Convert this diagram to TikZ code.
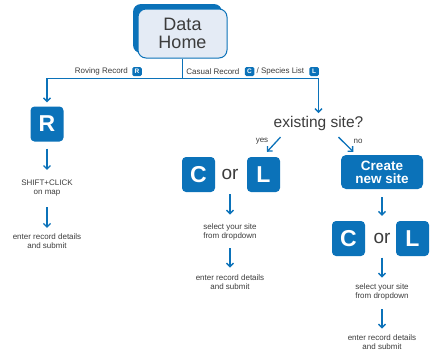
\documentclass[tikz,border=0pt]{standalone}
\usepackage{fontspec}
\setmainfont{Liberation Sans}
\usetikzlibrary{arrows.meta,positioning,shadows}
\definecolor{siteblue}{HTML}{0B72B9}
\definecolor{homefill}{HTML}{E4EBF5}
\definecolor{inkgray}{HTML}{3C3C3C}
\def\drawflow{\draw[color=siteblue, line width=1.3pt, -{Straight Barb[length=3.5pt,width=7pt]}]}
\def\bignode{\node[letterbox]}
\def\tagnode{\node[tagbox]}
\def\stepnode{\node[steptext]}

\begin{document}
\begin{tikzpicture}[x=1pt,y=-1pt,
  homebox/.style={fill=homefill, draw=siteblue, line width=1pt, rounded corners=8pt,
    minimum width=89pt, minimum height=49pt, inner sep=0pt, align=center, text=inkgray,
    font=\fontsize{18}{18}\selectfont,
    general shadow={fill=siteblue, rounded corners=9pt, shadow xshift=-5pt, shadow yshift=5pt}},
  letterbox/.style={fill=siteblue, rounded corners=4pt, minimum width=33pt, minimum height=35pt,
    inner sep=0pt, text=white, font=\fontsize{23}{23}\selectfont\bfseries},
  tagbox/.style={fill=siteblue, rounded corners=1.5pt, minimum width=9.5pt, minimum height=9pt,
    inner sep=0pt, text=white, font=\fontsize{6.5}{6.5}\selectfont\bfseries},
  createbox/.style={fill=siteblue, rounded corners=5pt, minimum width=82pt, minimum height=34pt,
    inner sep=0pt, align=center, text=white, font=\fontsize{13.5}{13}\selectfont\bfseries},
  orword/.style={minimum height=35pt, inner sep=0pt, text=inkgray, font=\fontsize{19}{19}\selectfont},
  steptext/.style={inner sep=0pt, align=center, text=inkgray, font=\fontsize{8}{9}\selectfont},
  labeltext/.style={inner sep=0pt, text=inkgray, font=\fontsize{8}{8}\selectfont},
  asktext/.style={inner sep=0pt, text=inkgray, font=\fontsize{15.5}{15.5}\selectfont},
  flowline/.style={draw=siteblue, line width=1.3pt}]
\useasboundingbox (0,0) rectangle (430,354);

\node[homebox] (home) at (182.5,33.5) {Data\\Home};
\draw[flowline] (home.south) -- ++(0,20) coordinate (split);

\tagnode (rtag) at (137,71.5) {R};
\node[labeltext, left=4pt of rtag] (roving) {Roving Record};
\tagnode (ctag) at (249.5,71.5) {C};
\node[labeltext, left=5pt of ctag] (casual) {Casual Record};
\node[labeltext, right=2pt of ctag] (species) {/ Species List};
\tagnode (ltag) at (314,71.5) {L};

\bignode (rbox) at (47,124) {R};
\stepnode (shift1) at (47,188.3) {SHIFT+CLICK\\on map};
\stepnode (enter1) at (47,241) {enter record details\\and submit};

\node[asktext] (exist) at (318.5,123) {existing site?};
\node[labeltext] (yes) at (262,141) {yes};
\node[labeltext] (no) at (358,141) {no};

\bignode (c1) at (198.5,174.5) {C};
\node[orword] (or1) at (230,174.5) {or};
\bignode (l1) at (263.5,174.5) {L};
\stepnode (select2) at (230,231.6) {select your site\\from dropdown};
\stepnode (enter2) at (230,281.8) {enter record details\\and submit};

\node[createbox] (create) at (382,172) {Create\\new site};
\bignode (c2) at (348.5,238.5) {C};
\node[orword] (or2) at (382,238.5) {or};
\bignode (l2) at (412.5,238.5) {L};
\stepnode (select3) at (382,291.6) {select your site\\from dropdown};
\stepnode (enter3) at (382,341.8) {enter record details\\and submit};

\drawflow[shorten >=4pt] (split) -| (rbox);
\drawflow[shorten >=2.5pt] (split) -| (exist);

\drawflow[shorten <=7pt, shorten >=10pt] (rbox) -- (shift1);
\drawflow[shorten <=10.5pt, shorten >=5.5pt] (shift1) -- (enter1);

\drawflow ([xshift=7pt, yshift=-6.7pt]exist.south west) -- ([xshift=3.5pt, yshift=5pt]l1.north);
\drawflow ([xshift=-25pt, yshift=-6.7pt]exist.south east) -- ([xshift=12.5pt, yshift=3pt]create.north west);

\drawflow[shorten <=2pt, shorten >=8.6pt] (or1) -- (select2);
\drawflow[shorten <=8.4pt, shorten >=6.6pt] (select2) -- (enter2);

\drawflow[shorten <=8pt, shorten >=5pt] (create) -- (or2);
\drawflow[shorten <=1.5pt, shorten >=5.6pt] (or2) -- (select3);
\drawflow[shorten <=9.4pt, shorten >=5.6pt] (select3) -- (enter3);
\end{tikzpicture}
\end{document}
